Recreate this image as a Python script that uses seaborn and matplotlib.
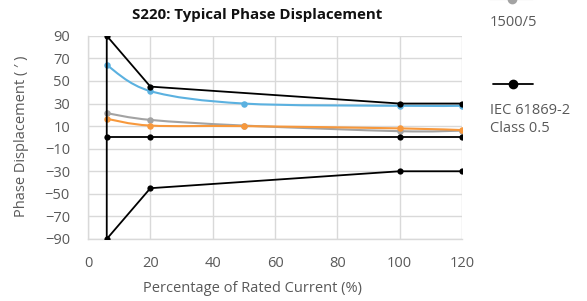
import numpy as np
import pandas as pd
import matplotlib
matplotlib.use("Agg")
import matplotlib.pyplot as plt
import seaborn as sns
from matplotlib.path import Path
from matplotlib.patches import PathPatch
from matplotlib.lines import Line2D

# ---------------- data ----------------
current_pct = [6, 20, 50, 100, 120]
blue_vals = [64, 41, 30, 28, 28]
gray_vals = [21.5, 15.5, 10.5, 5.5, 6]
orange_vals = [16.5, 10.5, 10, 8, 6.5]

iec_x = [120, 100, 20, 6, 6, 20, 100, 120]
iec_y = [30, 30, 45, 90, -90, -45, -30, -30]
zero_x = [6, 20, 100, 120]
zero_y = [0, 0, 0, 0]

x_ticks = [0, 20, 40, 60, 80, 100, 120]
y_ticks = [-90, -70, -50, -30, -10, 10, 30, 50, 70, 90]

title = "S220: Typical Phase Displacement"
x_label = "Percentage of Rated Current (%)"
y_label = "Phase Displacement ( \u2032 )"
legend_labels = ["1500/5", "IEC 61869-2\nClass 0.5"]

# ---------------- style ----------------
sns.set_theme(style="white")
plt.rcParams["font.family"] = ["Open Sans", "DejaVu Sans"]

BLUE = "#5BB1E0"
ORANGE = "#F7983C"
GRAY = "#A3A3A3"
TXT = "#595959"
GRID = "#D9D9D9"

fig = plt.figure(figsize=(5.87, 3.01), dpi=100)
ax = fig.add_axes([0.150, 0.206, 0.637, 0.675])


def smooth_path(x, y):
    pts = np.column_stack([x, y]).astype(float)
    n = len(pts)
    verts = [pts[0]]
    codes = [Path.MOVETO]
    for i in range(n - 1):
        p0 = pts[i - 1] if i > 0 else pts[i]
        p1 = pts[i]
        p2 = pts[i + 1]
        p3 = pts[i + 2] if i + 2 < n else pts[i + 1]
        c1 = p1 + (p2 - p0) / 6.0
        c2 = p2 - (p3 - p1) / 6.0
        verts += [c1, c2, p2]
        codes += [Path.CURVE4] * 3
    return Path(verts, codes)


series = [("gray", gray_vals, GRAY), ("orange", orange_vals, ORANGE), ("blue", blue_vals, BLUE)]
for name, vals, col in series:
    ax.add_patch(PathPatch(smooth_path(current_pct, vals), facecolor="none",
                           edgecolor=col, lw=1.5, zorder=3))
    df = pd.DataFrame({"x": current_pct, "y": vals})
    sns.scatterplot(data=df, x="x", y="y", ax=ax, color=col, s=22,
                    edgecolor=col, linewidth=0, zorder=4, legend=False)

iec_df = pd.DataFrame({"x": iec_x, "y": iec_y})
sns.lineplot(data=iec_df, x="x", y="y", ax=ax, sort=False, estimator=None,
             color="black", lw=1.3, marker="o", markersize=4.5,
             markeredgewidth=0, zorder=5)
zero_df = pd.DataFrame({"x": zero_x, "y": zero_y})
sns.lineplot(data=zero_df, x="x", y="y", ax=ax, sort=False, estimator=None,
             color="black", lw=1.3, marker="o", markersize=4.5,
             markeredgewidth=0, zorder=5)

ax.set_xlim(0, 120)
ax.set_ylim(-90, 90)
ax.set_xticks(x_ticks)
ax.set_yticks(y_ticks)
ax.grid(True, color=GRID, lw=1.0, zorder=0)
ax.set_axisbelow(True)
for s in ["top", "right"]:
    ax.spines[s].set_visible(False)
for s in ["left", "bottom"]:
    ax.spines[s].set_color(GRID)
    ax.spines[s].set_linewidth(1.0)
ax.tick_params(axis="y", length=5, width=1, color=GRID, pad=8, labelsize=10.5, labelcolor=TXT)
ax.tick_params(axis="x", length=0, pad=12, labelsize=10.5, labelcolor=TXT)
ax.set_xlabel("")
ax.set_ylabel("")

fig.text(0.438, 0.950, title, ha="center", va="center", fontsize=10.8,
         fontweight="bold", color="#111111")
fig.text(0.430, 0.040, x_label, ha="center", va="center", fontsize=10.5, color=TXT)
fig.text(0.037, 0.548, y_label, ha="center", va="center", fontsize=10.5,
         color=TXT, rotation=90)

# ---------------- legend (partially cropped at top, as in reference) ----------------
h1 = Line2D([0.835, 0.908], [1.003, 1.003], transform=fig.transFigure, color=GRAY,
            lw=1.5, clip_on=False)
m1 = Line2D([0.8715], [1.003], transform=fig.transFigure, color=GRAY, marker="o",
            markersize=6, lw=0, clip_on=False)
fig.add_artist(h1)
fig.add_artist(m1)
fig.text(0.835, 0.925, legend_labels[0], ha="left", va="center", fontsize=10.5, color=TXT)

h2 = Line2D([0.840, 0.908], [0.721, 0.721], transform=fig.transFigure, color="black",
            lw=1.3, clip_on=False)
m2 = Line2D([0.874], [0.721], transform=fig.transFigure, color="black", marker="o",
            markersize=6, lw=0, clip_on=False)
fig.add_artist(h2)
fig.add_artist(m2)
fig.text(0.835, 0.602, legend_labels[1], ha="left", va="center", fontsize=10.5,
         color=TXT, linespacing=1.25)

fig.savefig("out.png", dpi=100)
